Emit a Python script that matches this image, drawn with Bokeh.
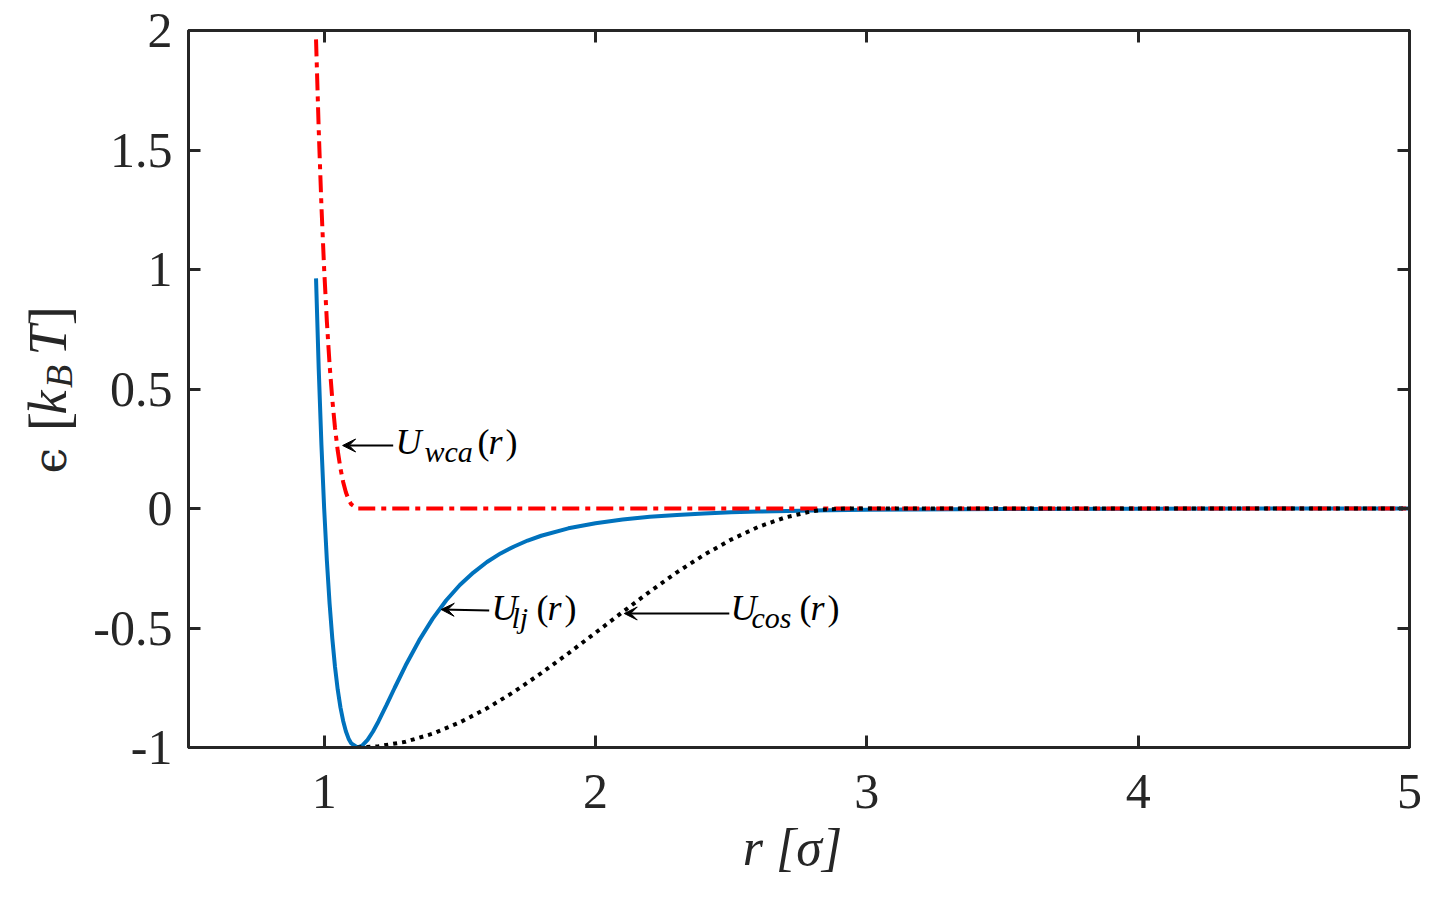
import math
from bokeh.plotting import figure
from bokeh.layouts import row
from bokeh.models import (Range1d, LinearAxis, FixedTicker, CustomJSTickFormatter,
                          Label, Arrow, VeeHead)
from bokeh.embed import file_html
from bokeh.resources import INLINE

# ---------------- data ----------------
r_lj = [0.97, 0.98, 0.99, 1.00, 1.01, 1.02, 1.03, 1.04, 1.05, 1.06, 1.07, 1.08,
        1.09, 1.10, 1.1225, 1.14, 1.16, 1.18, 1.20, 1.23, 1.26, 1.30, 1.35, 1.40,
        1.45, 1.50, 1.55, 1.60, 1.65, 1.70, 1.75, 1.80, 1.90, 2.00, 2.10, 2.20,
        2.30, 2.40, 2.50, 2.60, 2.80, 3.00, 3.50, 4.00, 5.00]
u_lj = [0.963, 0.582, 0.264, 0.000, -0.218, -0.398, -0.544, -0.663, -0.758, -0.832,
        -0.889, -0.932, -0.963, -0.983, -1.000, -0.992, -0.968, -0.933, -0.891,
        -0.822, -0.750, -0.657, -0.552, -0.461, -0.384, -0.320, -0.268, -0.224,
        -0.188, -0.159, -0.134, -0.114, -0.083, -0.062, -0.046, -0.035, -0.027,
        -0.021, -0.016, -0.013, -0.008, -0.005, -0.002, -0.001, 0.000]

r_wca = [0.97, 0.98, 0.99, 1.00, 1.01, 1.02, 1.03, 1.04, 1.05, 1.06, 1.07, 1.08,
         1.09, 1.10, 1.1225, 5.00]
u_wca = [1.963, 1.582, 1.264, 1.000, 0.782, 0.602, 0.456, 0.337, 0.242, 0.168,
         0.111, 0.068, 0.037, 0.017, 0.000, 0.000]

r_cos = [1.1225, 1.2, 1.3, 1.4, 1.5, 1.6, 1.7, 1.8, 1.9, 2.0, 2.1, 2.2, 2.3, 2.4,
         2.5, 2.6, 2.7, 2.8, 2.85, 2.9225, 5.0]
u_cos = [-1.000, -0.995, -0.976, -0.942, -0.895, -0.836, -0.767, -0.689, -0.606,
         -0.520, -0.433, -0.348, -0.267, -0.194, -0.130, -0.077, -0.037, -0.011,
         -0.004, 0.000, 0.000]

x_ticks = [1, 2, 3, 4, 5]
y_ticks = [-1, -0.5, 0, 0.5, 1, 1.5, 2]
x_label = "r  [σ]"

# ---------------- styles ----------------
FONT = "Liberation Serif"
AX = "#262626"
H = 898
TOP, BOTTOM = 30, 151          # frame spans page y 30..747
K = 0.37                       # baseline correction (fraction of font size)

# ---------------- main figure ----------------
p = figure(width=1334, height=H, x_range=Range1d(0.5, 5), y_range=Range1d(-1, 2),
           output_backend="svg", toolbar_location=None,
           min_border_left=98, min_border_right=15, min_border_top=TOP,
           min_border_bottom=BOTTOM)
p.grid.visible = False
p.outline_line_color = AX
p.outline_line_width = 3
p.background_fill_color = "white"
p.border_fill_color = "white"

fmt = CustomJSTickFormatter(code="return tick.toString();")
blank_fmt = CustomJSTickFormatter(code="return '';")


def style_axis(ax, ticks, show_labels):
    ax.ticker = FixedTicker(ticks=ticks)
    ax.axis_line_color = AX
    ax.axis_line_width = 3
    ax.major_tick_line_color = AX
    ax.major_tick_line_width = 3
    ax.major_tick_in = 12
    ax.major_tick_out = 0
    ax.minor_tick_line_color = None
    ax.major_label_text_font = FONT
    ax.major_label_text_font_size = "50px"
    ax.major_label_text_color = AX
    if show_labels:
        ax.formatter = fmt
    else:
        ax.formatter = blank_fmt
        ax.major_label_standoff = 0


style_axis(p.xaxis[0], x_ticks, True)
style_axis(p.yaxis[0], y_ticks, True)
p.xaxis[0].major_label_standoff = 27
p.yaxis[0].major_label_standoff = 16

xa = p.xaxis[0]
xa.axis_label = x_label
xa.axis_label_text_font = FONT
xa.axis_label_text_font_style = "italic"
xa.axis_label_text_font_size = "52px"
xa.axis_label_text_color = AX
xa.axis_label_standoff = 8

top_ax = LinearAxis()
right_ax = LinearAxis()
style_axis(top_ax, x_ticks, False)
style_axis(right_ax, y_ticks, False)
p.add_layout(top_ax, "above")
p.add_layout(right_ax, "right")

# ---------------- curves ----------------
p.line(r_lj, u_lj, line_color="#0072BD", line_width=4)
p.line(r_wca, u_wca, line_color="#FF0000", line_width=4, line_dash="17 6 5 6")
p.line(r_cos, u_cos, line_color="black", line_width=4, line_dash="4 5")

# ---------------- arrows ----------------
arrow_x0 = [1.2544, 1.6083, 2.4931]
arrow_y0 = [0.2636, -0.4268, -0.4393]
arrow_x1 = [1.068, 1.4313, 2.1060]
arrow_y1 = [0.2636, -0.4226, -0.4393]
for xs, ys, xe, ye in zip(arrow_x0, arrow_y0, arrow_x1, arrow_y1):
    p.add_layout(Arrow(end=VeeHead(size=13, fill_color="black", line_color="black"),
                       x_start=xs, y_start=ys, x_end=xe, y_end=ye,
                       line_color="black", line_width=2))


def txt(fig, left, bottom, s, px, py, size, style="normal", rotated=False,
        align="left", color="black", font=FONT):
    # (px, py): wanted baseline anchor in page pixels
    if rotated:
        px = px - K * size
        angle = math.pi / 2
    else:
        py = py - K * size
        angle = 0.0
    fig.add_layout(Label(x=px - left, y=bottom - py, x_units="screen",
                         y_units="screen", text=s, text_font=font,
                         text_font_size=f"{size}px", text_font_style=style,
                         text_align=align, text_baseline="alphabetic",
                         angle=angle, text_color=color))


# annotation texts in main frame (frame left 188, bottom 747 in page px)
def math_label(sub, ux, base, subx, parx):
    txt(p, 188, 747, "U", ux, base, 36, "italic")
    txt(p, 188, 747, sub, subx, base + 7, 30, "italic")
    txt(p, 188, 747, "(", parx, base, 36)
    txt(p, 188, 747, "r", parx + 11, base, 36, "italic")
    txt(p, 188, 747, ")", parx + 28, base, 36)


math_label("wca", 395, 455, 424, 477)
math_label("lj", 491, 621, 511, 536)
math_label("cos", 730, 621, 751, 799)

# ---------------- y label figure (frame synced with main frame) ----------------
yf = figure(width=90, height=H, x_range=Range1d(0, 1), y_range=Range1d(0, 1),
            output_backend="svg", toolbar_location=None,
            x_axis_location=None, y_axis_location=None,
            min_border_left=0, min_border_right=0, min_border_top=TOP,
            min_border_bottom=BOTTOM)
yf.grid.visible = False
yf.outline_line_color = None
yf.background_fill_color = "white"
yf.border_fill_color = "white"

txt(yf, 0, 747, "ϵ", 67, 460, 46, rotated=True, align="center", color=AX, font="DejaVu Serif")
txt(yf, 0, 747, "[", 69, 421, 58, rotated=True, align="center", color=AX)
txt(yf, 0, 747, "k", 67, 402, 54, "italic", rotated=True, align="center", color=AX)
txt(yf, 0, 747, "B", 73, 376, 38, "italic", rotated=True, align="center", color=AX)
txt(yf, 0, 747, "T", 67, 340, 54, "italic", rotated=True, align="center", color=AX)
txt(yf, 0, 747, "]", 69, 315, 58, rotated=True, align="center", color=AX)

layout = row(yf, p)
open("out.html", "w").write(file_html(layout, INLINE))
